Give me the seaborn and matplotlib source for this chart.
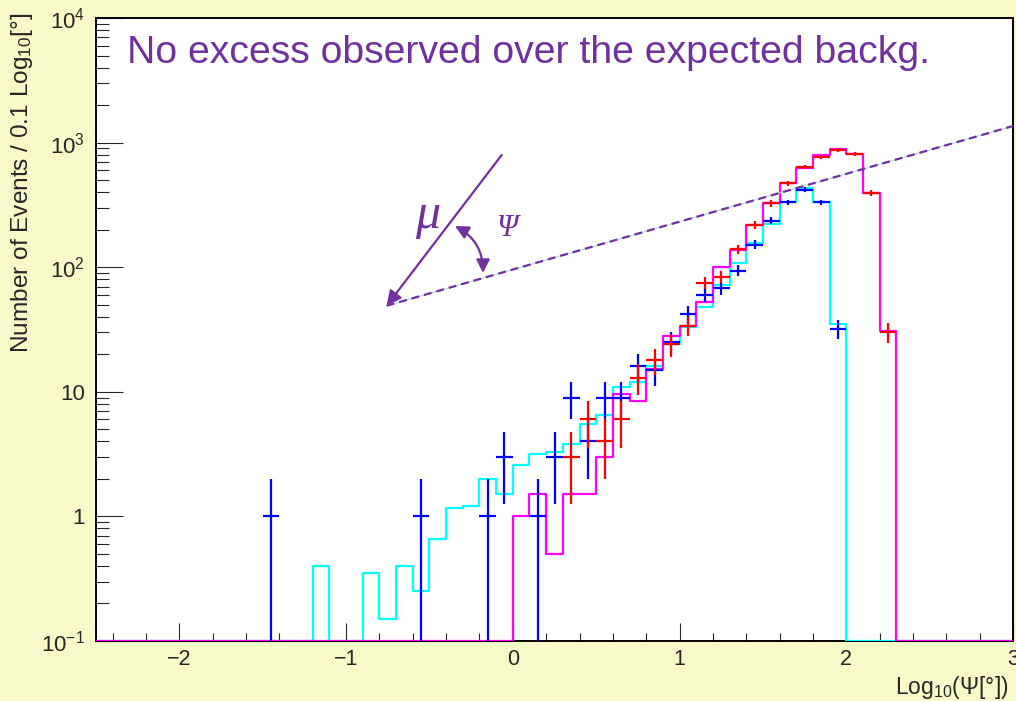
import numpy as np
import pandas as pd
import matplotlib
matplotlib.use("Agg")
import matplotlib.pyplot as plt
import seaborn as sns
from matplotlib.ticker import FixedLocator, FixedFormatter, MultipleLocator, NullFormatter

# ---------------------------------------------------------------- data
# binning in log10(psi / deg): 0.1 wide bins from -2.5 to 3.0
x_lo, x_hi, bin_w = -2.5, 3.0, 0.1

# expected background, sample A (cyan), first bin starts at -1.2
bkg_a_start = -1.2
bkg_a = [0.4, 0, 0, 0.35, 0.15, 0.4, 0.25, 0.66, 1.17, 1.22,
         2.0, 1.52, 2.58, 3.14, 3.3, 3.8, 5.47, 6.46, 10.9, 12.0,
         16, 24, 33, 47.7, 72.5, 108, 155, 224, 331, 435, 331, 35]

# expected background, sample B (magenta), first bin starts at 0.0
bkg_b_start = 0.0
bkg_b = [1, 1.5, 0.5, 1.5, 1.5, 3, 9.6, 8.5, 15.3, 28.3, 33.6, 53,
         100, 138, 220, 330, 474, 625, 798, 893, 815, 394, 30.5]

# observed events, sample A (blue): lower bin edge and counts
obs_a_lo = [-1.5, -0.6, -0.2, -0.1, 0.1, 0.2, 0.3, 0.4, 0.5, 0.6, 0.7, 0.8,
            0.9, 1.0, 1.1, 1.2, 1.3, 1.4, 1.5, 1.6, 1.7, 1.8, 1.9]
obs_a_n = [1, 1, 1, 3, 1, 3, 9, 4, 9, 9, 16, 15,
           25, 42, 60, 68, 94, 152, 236, 331, 419, 331, 32]

# observed events, sample B (red)
obs_b_lo = [0.3, 0.4, 0.5, 0.6, 0.7, 0.8, 0.9, 1.0, 1.1, 1.2,
            1.3, 1.4, 1.5, 1.6, 1.7, 1.8, 1.9, 2.0, 2.1, 2.2]
obs_b_n = [3, 6, 4, 6, 13, 18, 24, 34, 75, 84,
           140, 219, 325, 472, 640, 762, 877, 815, 394, 30]

y_lo, y_hi = 0.1, 1e4
y_major = [0.1, 1, 10, 100, 1000, 10000]
y_major_labels = [r"$\mathregular{10^{-1}}$", "1", "10",
                  r"$\mathregular{10^{2}}$", r"$\mathregular{10^{3}}$",
                  r"$\mathregular{10^{4}}$"]

title_text = "No excess observed over the expected backg."
xlabel_text = r"Log$_{10}$(Ψ[°])"
ylabel_text = r"Number of Events / 0.1 Log$_{10}$[°]"

# ---------------------------------------------------------------- style
sns.set_style("ticks")
plt.rcParams["font.family"] = ["Liberation Sans", "DejaVu Sans"]
plt.rcParams["mathtext.fontset"] = "custom"
plt.rcParams["mathtext.rm"] = "Liberation Sans"
plt.rcParams["mathtext.it"] = "Liberation Sans:italic"
plt.rcParams["mathtext.sf"] = "Liberation Sans"

bg = "#F6FAC8"
purple = "#7030A0"

edges = np.round(np.arange(x_lo, x_hi + bin_w / 2, bin_w), 3)
centers = np.round(edges[:-1] + bin_w / 2, 3)
n_bins = len(centers)


def full_hist(start, values):
    arr = np.zeros(n_bins)
    i0 = int(round((start - x_lo) / bin_w))
    arr[i0:i0 + len(values)] = values
    return arr


fig = plt.figure(figsize=(10.16, 7.01), dpi=100, facecolor=bg)
ax = fig.add_axes([96 / 1016, 60 / 701, 917 / 1016, 623 / 701])
ax.set_facecolor("white")

# empty bins are drawn along the lower edge of the frame
for start, vals, col in [(bkg_a_start, bkg_a, "#00FFFF"),
                         (bkg_b_start, bkg_b, "#FF00FF")]:
    df = pd.DataFrame({"x": centers,
                       "w": np.maximum(full_hist(start, vals), y_lo)})
    sns.histplot(data=df, x="x", weights="w", bins=list(edges),
                 element="step", fill=False, color=col, linewidth=1.6,
                 ax=ax, zorder=2.7)

for lo, n, col in [(obs_a_lo, obs_a_n, "#0000FF"),
                   (obs_b_lo, obs_b_n, "#FF0000")]:
    xc = np.asarray(lo) + bin_w / 2
    nn = np.asarray(n, dtype=float)
    err = np.sqrt(nn)
    ax.errorbar(xc, nn, xerr=bin_w / 2, yerr=err, fmt="none",
                ecolor=col, elinewidth=1.6, capsize=0, zorder=3)

ax.set_yscale("log")
ax.set_xlim(x_lo, x_hi)
ax.set_ylim(y_lo, y_hi)

ax.xaxis.set_major_locator(MultipleLocator(1))
ax.xaxis.set_minor_locator(MultipleLocator(0.2))
ax.yaxis.set_major_locator(FixedLocator(y_major))
ax.yaxis.set_major_formatter(FixedFormatter(y_major_labels))
minor_y = [m * 10.0 ** e for e in range(-1, 4) for m in range(2, 10)]
ax.yaxis.set_minor_locator(FixedLocator(minor_y))
ax.yaxis.set_minor_formatter(NullFormatter())

ax.tick_params(axis="x", which="major", direction="in", length=13,
               width=0.8, labelsize=15.5, pad=6, top=False)
ax.tick_params(axis="x", which="minor", direction="in", length=6,
               width=0.8, top=False)
ax.tick_params(axis="y", which="major", direction="in", length=19.5,
               width=0.8, labelsize=16, pad=8, right=False)
ax.tick_params(axis="y", which="minor", direction="in", length=9.5,
               width=0.8, right=False)
for s in ax.spines.values():
    s.set_visible(True)
    s.set_linewidth(1.4)
    s.set_color("black")

ax.set_xlabel("")
ax.set_ylabel("")
fig.text(22 / 1016, 1 - 13 / 701, ylabel_text, rotation=90, ha="center",
         va="top", fontsize=17.6)
fig.text(1009 / 1016, 1 - 694 / 701, xlabel_text, ha="right",
         va="baseline", fontsize=16.5)

# headline
ax.text(0.0338, 0.9278, title_text, transform=ax.transAxes, fontsize=28.3,
        color=purple, va="baseline", ha="left")

# sketch of the opening angle between muon and source direction
vx, vy = 0.3170, 0.5382
ax.plot([vx, 1.0], [vy, 0.8266], transform=ax.transAxes, color="#ADD8E6",
        lw=0.8, zorder=4)
ax.plot([vx, 1.0], [vy, 0.8266], transform=ax.transAxes, color=purple,
        lw=1.6, ls=(0, (3.6, 2.2)), zorder=5)
ax.annotate("", xy=(vx, vy), xytext=(0.4424, 0.7801),
            xycoords="axes fraction", textcoords="axes fraction",
            arrowprops=dict(arrowstyle="-|>", color=purple, lw=1.6,
                            mutation_scale=22, shrinkA=0, shrinkB=0),
            zorder=5)
ax.annotate("", xy=(0.4220, 0.5907), xytext=(0.3915, 0.6661),
            xycoords="axes fraction", textcoords="axes fraction",
            arrowprops=dict(arrowstyle="<|-|>", color=purple, lw=1.6,
                            mutation_scale=20, shrinkA=0, shrinkB=0,
                            connectionstyle="arc3,rad=-0.3"),
            zorder=5)
ax.text(0.362, 0.682, "μ", transform=ax.transAxes, fontsize=36,
        family="Liberation Serif", style="italic", color=purple,
        ha="center", va="center")
ax.text(0.4493, 0.6629, "Ψ", transform=ax.transAxes, fontsize=22,
        family="Liberation Serif", style="italic", color=purple,
        ha="center", va="center")

fig.savefig("out.png", dpi=100, facecolor=bg)
